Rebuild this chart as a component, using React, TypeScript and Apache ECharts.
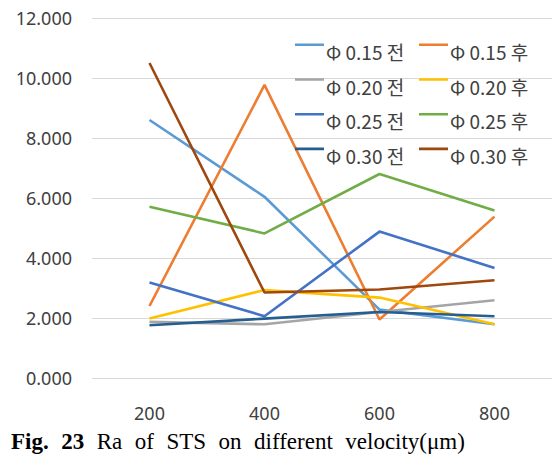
import React, { useEffect, useRef } from "react";
import * as echarts from "echarts";

const categories = ["200", "400", "600", "800"];

const seriesNames = [
  "Φ 0.15 전",
  "Φ 0.15 후",
  "Φ 0.20 전",
  "Φ 0.20 후",
  "Φ 0.25 전",
  "Φ 0.25 후",
  "Φ 0.30 전",
  "Φ 0.30 후",
];

const phi015Before = [8.6, 6.04, 2.28, 1.79];
const phi015After = [2.4, 9.77, 1.95, 5.38];
const phi020Before = [1.87, 1.79, 2.2, 2.59];
const phi020After = [1.98, 2.93, 2.68, 1.79];
const phi025Before = [3.18, 2.06, 4.88, 3.67];
const phi025After = [5.71, 4.82, 6.8, 5.58];
const phi030Before = [1.76, 1.98, 2.2, 2.06];
const phi030After = [10.5, 2.85, 2.95, 3.26];

const seriesValues = [
  phi015Before,
  phi015After,
  phi020Before,
  phi020After,
  phi025Before,
  phi025After,
  phi030Before,
  phi030After,
];

const seriesColors = [
  "#5B9BD5",
  "#ED7D31",
  "#A5A5A5",
  "#FFC000",
  "#4472C4",
  "#70AD47",
  "#255E91",
  "#9E480E",
];

const yMin = 0;
const yMax = 12;
const yInterval = 2;

const captionWords = ["Ra", "of", "STS", "on", "different", "velocity(μm)"];

const LEGEND_ICON = "path://M0 0H29V2.6H0Z M0 15.9H0.05V16H0Z";

export default function App() {
  const ref = useRef<HTMLDivElement>(null);

  useEffect(() => {
    if (!ref.current) return;
    const chart = echarts.init(ref.current, null, { renderer: "svg" });

    const legendCommon = {
      orient: "vertical",
      top: 40.5,
      padding: 0,
      itemWidth: 29,
      itemHeight: 16,
      itemGap: 12.7,
      icon: LEGEND_ICON,
      itemStyle: { borderWidth: 0 },
      textStyle: {
        fontFamily: "'Noto Sans CJK KR', 'Noto Sans'",
        fontSize: 19,
        color: "#404040",
        lineHeight: 22,
        padding: [0, 0, 0, -3],
      },
      selectedMode: false,
    };

    const caption =
      "{b|Fig.}{g| }{b|23}{g| }" +
      captionWords.map((w) => `{r|${w}}`).join("{g| }");

    chart.setOption({
      animation: false,
      backgroundColor: "#ffffff",
      grid: {
        left: 92,
        right: -18,
        top: 18,
        bottom: 84,
        containLabel: false,
      },
      legend: [
        {
          ...legendCommon,
          left: 295,
          data: seriesNames.filter((_, i) => i % 2 === 0),
        },
        {
          ...legendCommon,
          left: 419,
          data: seriesNames.filter((_, i) => i % 2 === 1),
        },
      ],
      xAxis: {
        type: "category",
        data: categories,
        boundaryGap: true,
        axisLine: { show: false },
        axisTick: { show: false },
        axisLabel: {
          margin: 26,
          fontFamily: "'Noto Sans'",
          fontSize: 18,
          color: "#404040",
        },
      },
      yAxis: {
        type: "value",
        min: yMin,
        max: yMax,
        interval: yInterval,
        axisLine: { show: false },
        axisTick: { show: false },
        splitLine: { lineStyle: { color: "#D9D9D9", width: 1 } },
        axisLabel: {
          margin: 20,
          fontFamily: "'Noto Sans'",
          fontSize: 18,
          color: "#404040",
          formatter: (v: number) => v.toFixed(3),
        },
      },
      series: seriesNames.map((name, i) => ({
        name,
        type: "line",
        data: seriesValues[i],
        symbol: "none",
        lineStyle: { width: 2.6, color: seriesColors[i] },
        itemStyle: { color: seriesColors[i] },
      })),
      graphic: [
        {
          type: "text",
          left: 11,
          top: 430,
          style: {
            text: caption,
            fill: "#000",
            font: "23px 'Liberation Serif'",
            rich: {
              b: {
                fontFamily: "'Liberation Serif'",
                fontWeight: "bold",
                fontSize: 23,
                fill: "#000",
              },
              r: {
                fontFamily: "'Liberation Serif'",
                fontSize: 23,
                fill: "#000",
              },
              g: { width: 12.5, fontSize: 23 },
            },
          },
        },
      ],
    });

    return () => chart.dispose();
  }, []);

  return (
    <div
      ref={ref}
      style={{ position: "absolute", left: 0, top: 0, width: 552, height: 462 }}
    />
  );
}
